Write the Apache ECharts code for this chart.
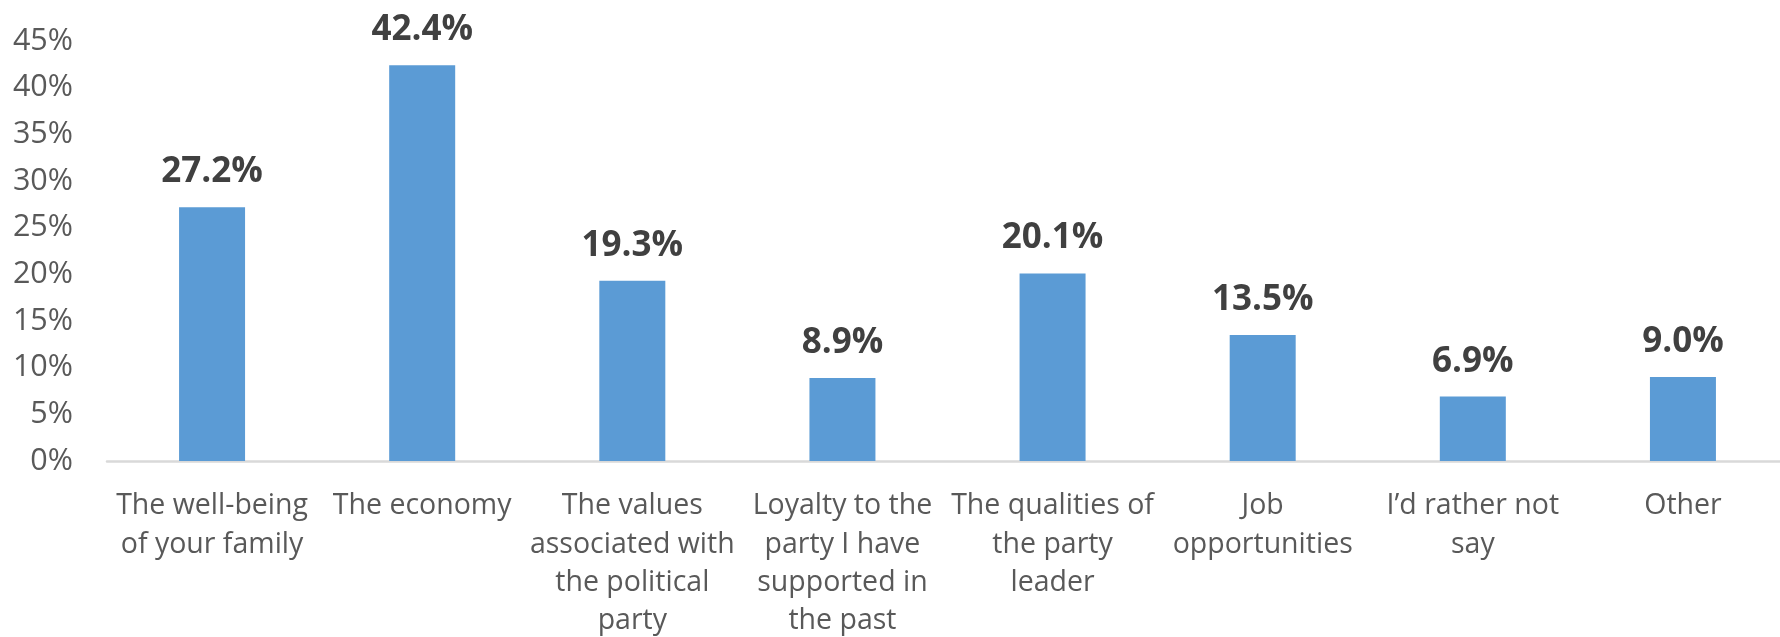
<!DOCTYPE html>
<html>
<head>
<meta charset="utf-8">
<script src="https://cdn.jsdelivr.net/npm/echarts@6/dist/echarts.min.js"></script>
<style>
  html, body { margin: 0; padding: 0; background: #ffffff; }
  #chart { width: 1780px; height: 637px; }
</style>
</head>
<body>
<div id="chart"></div>
<script>
// Reasons given for the vote, share of respondents (%)
const categories = [
  'The well-being\nof your family',
  'The economy',
  'The values\nassociated with\nthe political\nparty',
  'Loyalty to the\nparty I have\nsupported in\nthe past',
  'The qualities of\nthe party\nleader',
  'Job\nopportunities',
  'I\u2019d rather not\nsay',
  'Other'
];
const shares = [27.2, 42.4, 19.3, 8.9, 20.1, 13.5, 6.9, 9.0];
const yTicks = { min: 0, max: 45, interval: 5 };

const chart = echarts.init(document.getElementById('chart'), null, { renderer: 'canvas' });

chart.setOption({
  animation: false,
  backgroundColor: '#ffffff',
  textStyle: { fontFamily: '"Open Sans", sans-serif' },
  grid: {
    left: 107, right: -8, top: 41, bottom: 176,
    containLabel: false,
    outerBoundsMode: 'none'
  },
  xAxis: {
    type: 'category',
    data: categories,
    axisLine: { show: true, lineStyle: { color: '#d9d9d9', width: 2.5 } },
    axisTick: { show: false },
    axisLabel: {
      interval: 0,
      margin: 26,
      color: '#595959',
      fontSize: 28.5,
      lineHeight: 38.3,
      fontFamily: '"Open Sans", sans-serif',
      align: 'center'
    },
    splitLine: { show: false }
  },
  yAxis: {
    type: 'value',
    min: yTicks.min,
    max: yTicks.max,
    interval: yTicks.interval,
    axisLine: { show: false },
    axisTick: { show: false },
    splitLine: { show: false },
    axisLabel: {
      margin: 34,
      color: '#595959',
      fontSize: 30.5,
      fontFamily: '"Open Sans", sans-serif',
      formatter: '{value}%'
    }
  },
  series: [{
    type: 'bar',
    data: shares,
    barWidth: 66,
    itemStyle: { color: '#5b9bd5' },
    label: {
      show: true,
      position: 'top',
      distance: 17.5,
      color: '#404040',
      fontSize: 35,
      fontWeight: 'bold',
      fontFamily: '"Open Sans", sans-serif',
      formatter: p => p.value.toFixed(1) + '%'
    }
  }]
});
</script>
</body>
</html>
